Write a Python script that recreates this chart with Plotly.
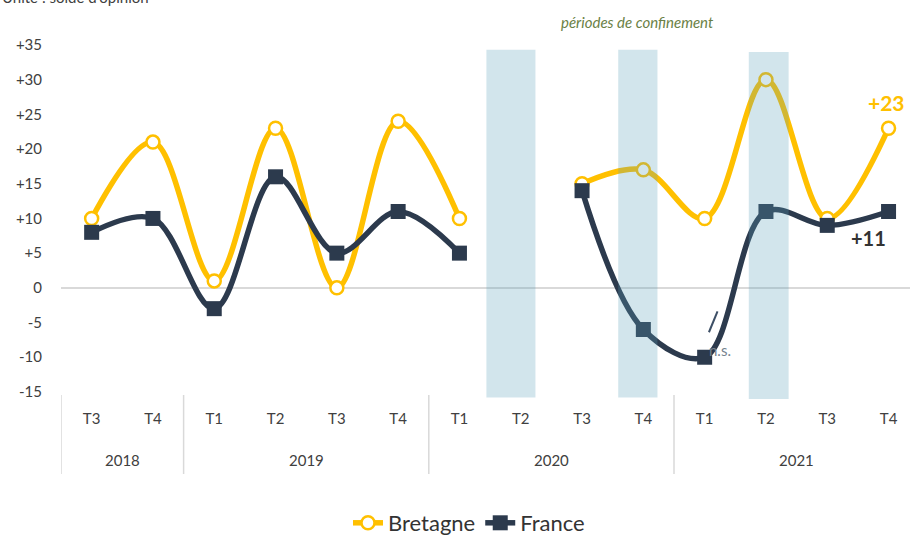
import plotly.graph_objects as go

quarters = ["T3", "T4", "T1", "T2", "T3", "T4", "T1", "T2", "T3", "T4", "T1", "T2", "T3", "T4"]
years = ["2018", "2019", "2020", "2021"]
year_spans = [(0, 1), (2, 5), (6, 9), (10, 13)]
bretagne = [10, 21, 1, 23, 0, 24, 10, None, 15, 17, 10, 30, 10, 23]
france = [8, 10, -3, 16, 5, 11, 5, None, 14, -6, -10, 11, 9, 11]
confinement = [(6.44, 7.24, 34.3, -15.8), (8.59, 9.23, 34.3, -15.8), (10.72, 11.37, 34.0, -16.0)]

x = list(range(len(quarters)))
YEL = "#FFC000"
NAVY = "#2C3A4D"
FONT = "Lato"

T, B = 38, 402
def py(p):
    return (B - p) / (B - T)

fig = go.Figure()
fig.add_trace(go.Scatter(
    x=x, y=bretagne, name="Bretagne", mode="lines+markers",
    line=dict(color=YEL, width=5.5, shape="spline", smoothing=1),
    marker=dict(symbol="circle", size=13, color="white", line=dict(color=YEL, width=2.5)),
    connectgaps=False, cliponaxis=False,
))
fig.add_trace(go.Scatter(
    x=x, y=france, name="France", mode="lines+markers",
    line=dict(color=NAVY, width=5.5, shape="spline", smoothing=1),
    marker=dict(symbol="square", size=15, color=NAVY),
    connectgaps=False, cliponaxis=False,
))

shapes = []
for x0, x1, y1, y0 in confinement:
    shapes.append(dict(type="rect", xref="x", yref="y", x0=x0, x1=x1, y0=y0, y1=y1,
                       fillcolor="rgba(90,160,185,0.27)", line=dict(width=0), layer="above"))
for sx in [-0.5, 1.5, 5.5, 9.5]:
    shapes.append(dict(type="line", xref="x", yref="paper", x0=sx, x1=sx, y0=py(395), y1=py(474),
                       line=dict(color="#D9D9D9", width=1.5)))
shapes.append(dict(type="line", xref="x", yref="y", x0=10.07, x1=10.21, y0=-6.4, y1=-3.4,
                   line=dict(color="#3D4F66", width=2)))

annotations = []
for yr, (a, b) in zip(years, year_spans):
    annotations.append(dict(text=yr, x=(a + b) / 2, xref="x", xanchor="center", y=py(460), yref="paper",
                            yanchor="middle", showarrow=False,
                            font=dict(family=FONT, size=15, color="#404040")))
annotations.append(dict(text="Unité : solde d'opinion", xref="paper", x=-61 / 849, xanchor="left",
                        yref="paper", y=py(-3), yanchor="middle", showarrow=False,
                        font=dict(family=FONT, size=15, color="#404040")))
annotations.append(dict(text="<i>périodes de confinement</i>", xref="paper", x=(637 - 61) / 849,
                        xanchor="center", yref="paper", y=py(22), yanchor="middle", showarrow=False,
                        font=dict(family=FONT, size=15, color="#6A7F45")))
annotations.append(dict(text="<b>+23</b>", x=13, y=bretagne[-1], xref="x", yref="y", yshift=26,
                        xshift=-2, xanchor="center", yanchor="middle", showarrow=False,
                        font=dict(family=FONT, size=21, color=YEL)))
annotations.append(dict(text="<b>+11</b>", x=13, y=france[-1], xref="x", yref="y", yshift=-26,
                        xshift=-20, xanchor="center", yanchor="middle", showarrow=False,
                        font=dict(family=FONT, size=20, color="#333333")))
annotations.append(dict(text="n.s.", x=10, y=france[10], xref="x", yref="y", xshift=15, yshift=7,
                        xanchor="center", yanchor="middle", showarrow=False,
                        font=dict(family=FONT, size=15, color="#76838F")))

yticks = list(range(-15, 40, 5))
ytext = [("+%d" % v if v > 0 else str(v)) for v in yticks]

fig.update_layout(
    width=910, height=538, autosize=False,
    margin=dict(l=61, r=0, t=T, b=538 - B),
    paper_bgcolor="white", plot_bgcolor="white",
    font=dict(family=FONT, color="#404040"),
    showlegend=True,
    legend=dict(orientation="h", xref="container", x=469 / 910, xanchor="center",
                yref="container", y=1 - 523 / 538, yanchor="middle",
                font=dict(family=FONT, size=22, color="#333333"), traceorder="normal"),
    xaxis=dict(range=[-0.5, 13.35], tickvals=x, ticktext=quarters, showgrid=False, zeroline=False,
               showline=False, ticks="", ticklabelstandoff=6, tickfont=dict(family=FONT, size=15, color="#404040")),
    yaxis=dict(range=[-16.45, 36], tickvals=yticks, ticktext=ytext, showgrid=False,
               zeroline=True, zerolinecolor="#D9D9D9", zerolinewidth=2, showline=False, ticks="",
               ticklabelstandoff=18, tickfont=dict(family=FONT, size=15, color="#404040")),
    shapes=shapes, annotations=annotations,
)

fig.write_html(
    "out.html",
    config={"displayModeBar": False, "responsive": False},
    default_width="910px", default_height="538px",
    post_script="document.body.style.margin='0';document.body.style.overflow='hidden';",
)
